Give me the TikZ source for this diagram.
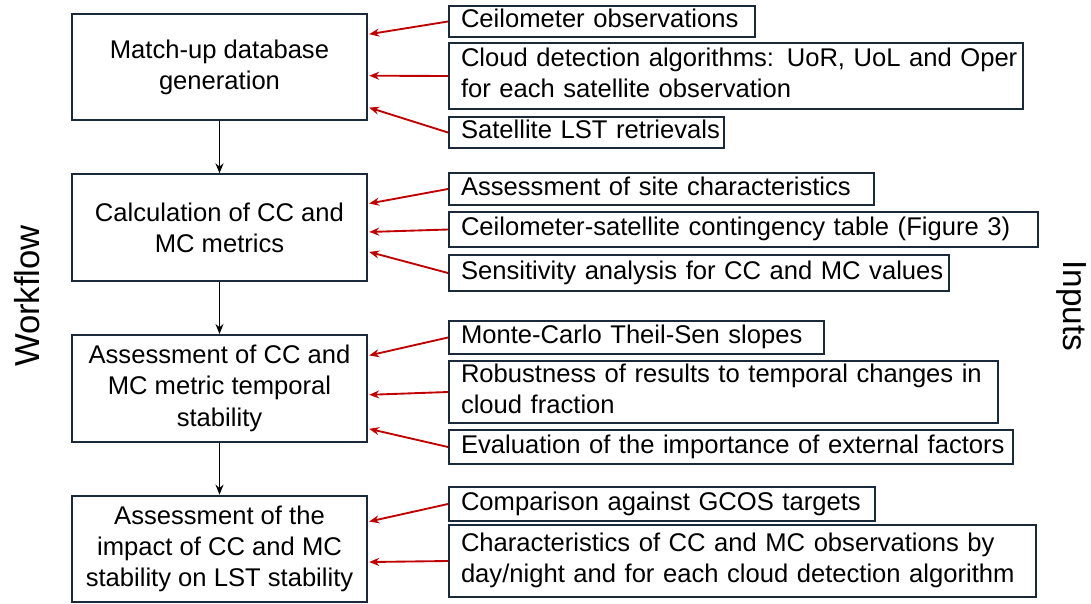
\documentclass[tikz,border=0pt]{standalone}
\usepackage{fontspec}
\setmainfont{Liberation Sans}
\usepackage{xcolor}
\usepackage{tikz}
\usetikzlibrary{positioning, arrows.meta, calc}

\definecolor{boxline}{HTML}{1B2A3B}
\definecolor{feedred}{HTML}{C00000}

\begin{document}
\begin{tikzpicture}[x=0.75pt, y=-0.75pt, >={Stealth[length=7.5pt, width=6pt]},
  every node/.style={font=\fontsize{19.2}{23.4}\selectfont},
  wbox/.style={draw=boxline, line width=1.5pt, minimum width=221pt, minimum height=80pt, align=center, inner sep=0pt},
  inbox/.style={draw=boxline, line width=1.5pt, anchor=west, align=left, inner xsep=9pt, inner ysep=0pt,
    execute at begin node=\strut, execute at end node=\strut},
  feed/.style={->, draw=feedred, line width=1.4pt, shorten >=1pt},
  flow/.style={->, line width=1.4pt},
  sidelabel/.style={inner sep=0pt, font=\fontsize{25}{30}\selectfont}]

\useasboundingbox (0,0) rectangle (1091,603);

% Workflow (left)
\node (match) [wbox] at (219.5,67) {Match-up database\\generation};
\node (calc) [wbox, below=39pt of match] {Calculation of CC and\\MC metrics};
\node (stab) [wbox, below=39pt of calc] {Assessment of CC and\\MC metric temporal\\stability};
\node (impact) [wbox, below=39pt of stab] {Assessment of the\\impact of CC and MC\\stability on LST stability};

\draw[flow] (match) -- (calc);
\draw[flow] (calc) -- (stab);
\draw[flow] (stab) -- (impact);

% Inputs (right)
\node (ceil) [inbox, text width=211.5pt] at (448,21.5) {\mbox{Ceilometer observations}};
\node (cda) [inbox, text width=412.5pt, minimum height=49.5pt] at (448,76) {\mbox{Cloud detection algorithms: UoR, UoL and Oper}\\\mbox{for each satellite observation}};
\node (lst) [inbox, text width=188.25pt] at (448,132.5) {\mbox{Satellite LST retrievals}};

\node (site) [inbox, text width=300.75pt, minimum height=24pt] at (448,189) {\mbox{Assessment of site characteristics}};
\node (cont) [inbox, text width=423.75pt, minimum height=26pt] at (448,229.5) {\mbox{Ceilometer-satellite contingency table (Figure 3)}};
\node (sens) [inbox, text width=357pt, minimum height=27pt] at (448,273) {\mbox{Sensitivity analysis for CC and MC values}};

\node (ts) [inbox, text width=263.25pt, minimum height=25pt] at (448,337.5) {\mbox{Monte-Carlo Theil-Sen slopes}};
\node (robust) [inbox, text width=393.75pt] at (448,392) {\mbox{Robustness of results to temporal changes in}\\\mbox{cloud fraction}};
\node (extf) [inbox, text width=405pt, minimum height=25pt] at (448,447) {\mbox{Evaluation of the importance of external factors}};

\node (gcos) [inbox, text width=301.5pt, minimum height=25.5pt] at (448,504) {\mbox{Comparison against GCOS targets}};
\node (daynight) [inbox, text width=422.25pt, minimum height=54pt] at (448,561) {\mbox{Characteristics of CC and MC observations by}\\\mbox{day/night and for each cloud detection algorithm}};

% Input arrows
\draw[feed] (ceil.west) -- ($(match.north east)!0.2!(match.south east)$);
\draw[feed] (cda.west) -- ($(match.north east)!0.58!(match.south east)$);
\draw[feed] (lst.west) -- ($(match.north east)!0.87!(match.south east)$);

\draw[feed] (site.west) -- ($(calc.north east)!0.28!(calc.south east)$);
\draw[feed] (cont.west) -- ($(calc.north east)!0.54!(calc.south east)$);
\draw[feed] (sens.west) -- ($(calc.north east)!0.72!(calc.south east)$);

\draw[feed] (ts.west) -- ($(stab.north east)!0.2!(stab.south east)$);
\draw[feed] (robust.west) -- ($(stab.north east)!0.56!(stab.south east)$);
\draw[feed] (extf.west) -- ($(stab.north east)!0.87!(stab.south east)$);

\draw[feed] (gcos.west) -- ($(impact.north east)!0.25!(impact.south east)$);
\draw[feed] (daynight.west) -- ($(impact.north east)!0.62!(impact.south east)$);

% Side labels
\node (wflabel) [sidelabel, rotate=90, font=\fontsize{26}{30}\selectfont] at (27,296) {Workflow};
\node (inlabel) [sidelabel, rotate=-90] at (1071,306) {Inputs};

\end{tikzpicture}
\end{document}
